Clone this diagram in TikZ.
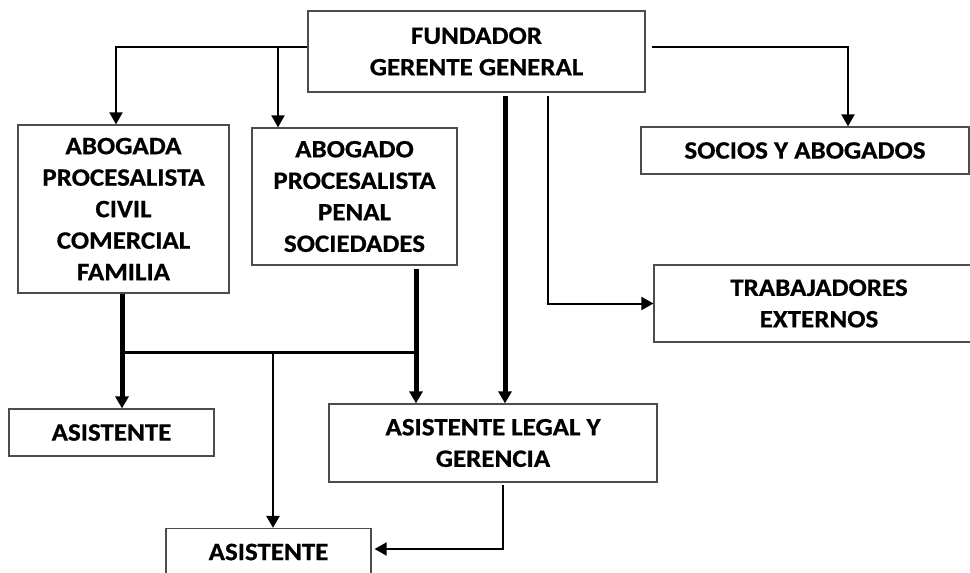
\documentclass[tikz,border=0pt]{standalone}
\usepackage{fontspec}
\setmainfont{Carlito}[FakeStretch=1.08,BoldFeatures={FakeBold=0.6}]
\usetikzlibrary{arrows.meta}
\begin{document}
\begin{tikzpicture}[x=1pt,y=-1pt,
  box/.style={draw=black!70,line width=1.2pt,rectangle,inner sep=0pt,align=center,
    font=\fontsize{25}{31.5}\selectfont\bfseries,text=black},
  tip/.style={-{Triangle[width=13pt,length=12pt]}},
  thinline/.style={line width=2pt,tip},
  midline/.style={line width=3pt},
  thickline/.style={line width=5pt,tip}]
\useasboundingbox (0,0) rectangle (970,573);
\clip (0,0) rectangle (970,573);
\node[box,minimum width=337pt,minimum height=81pt] (fund) at (476.5,51.5) {FUNDADOR\\GERENTE GENERAL};
\node[box,minimum width=211pt,minimum height=168pt] (abga) at (123.5,209) {ABOGADA\\PROCESALISTA\\CIVIL\\COMERCIAL\\FAMILIA};
\node[box,minimum width=205pt,minimum height=137pt] (abgo) at (354.5,196.5) {ABOGADO\\PROCESALISTA\\PENAL\\SOCIEDADES};
\node[box,minimum width=328pt,minimum height=47pt] (soc) at (805,150.5) {SOCIOS Y ABOGADOS};
\node[box,minimum width=330pt,minimum height=77pt] (trab) at (819,303.5) {TRABAJADORES\\EXTERNOS};
\node[box,minimum width=205pt,minimum height=47pt] (asis1) at (111.5,432.5) {ASISTENTE};
\node[box,minimum width=328pt,minimum height=78pt] (legal) at (493,443) {ASISTENTE LEGAL Y\\GERENCIA};
\node[box,minimum width=205pt,minimum height=47pt] (asis2) at (268.5,552) {ASISTENTE};
% bus
\coordinate (busL) at (122,352);
\coordinate (busR) at (416,352);
\coordinate (busM) at (273,352);
% connectors from fundador
\draw[thinline] ([yshift=4.5pt]fund.west) -| ([xshift=-7.5pt]abga.north);
\draw[thinline] ([yshift=4.5pt]fund.west) -| ([xshift=-76.5pt]abgo.north);
\draw[thinline] ([xshift=6pt,yshift=4.5pt]fund.east) -| ([xshift=43pt]soc.north);
\draw[thickline] ([xshift=28.5pt,yshift=-3pt]fund.south) -- ([xshift=12pt]legal.north);
\draw[thinline] ([xshift=71.5pt,yshift=-3pt]fund.south) |- (trab.west);
% lower connectors
\draw[thickline] ([xshift=-1.5pt]abga.south) -- ([xshift=10.5pt]asis1.north);
\draw[thickline] ([xshift=61.5pt,yshift=-3pt]abgo.south) -- ([xshift=-77pt]legal.north);
\draw[midline] (busL) -- (busR);
\draw[line width=2.5pt,tip] (busM) -- ([xshift=4.5pt]asis2.north);
\draw[thinline] ([xshift=10pt,yshift=-2pt]legal.south) |- ([xshift=3pt,yshift=3pt]asis2.east);
\end{tikzpicture}
\end{document}
